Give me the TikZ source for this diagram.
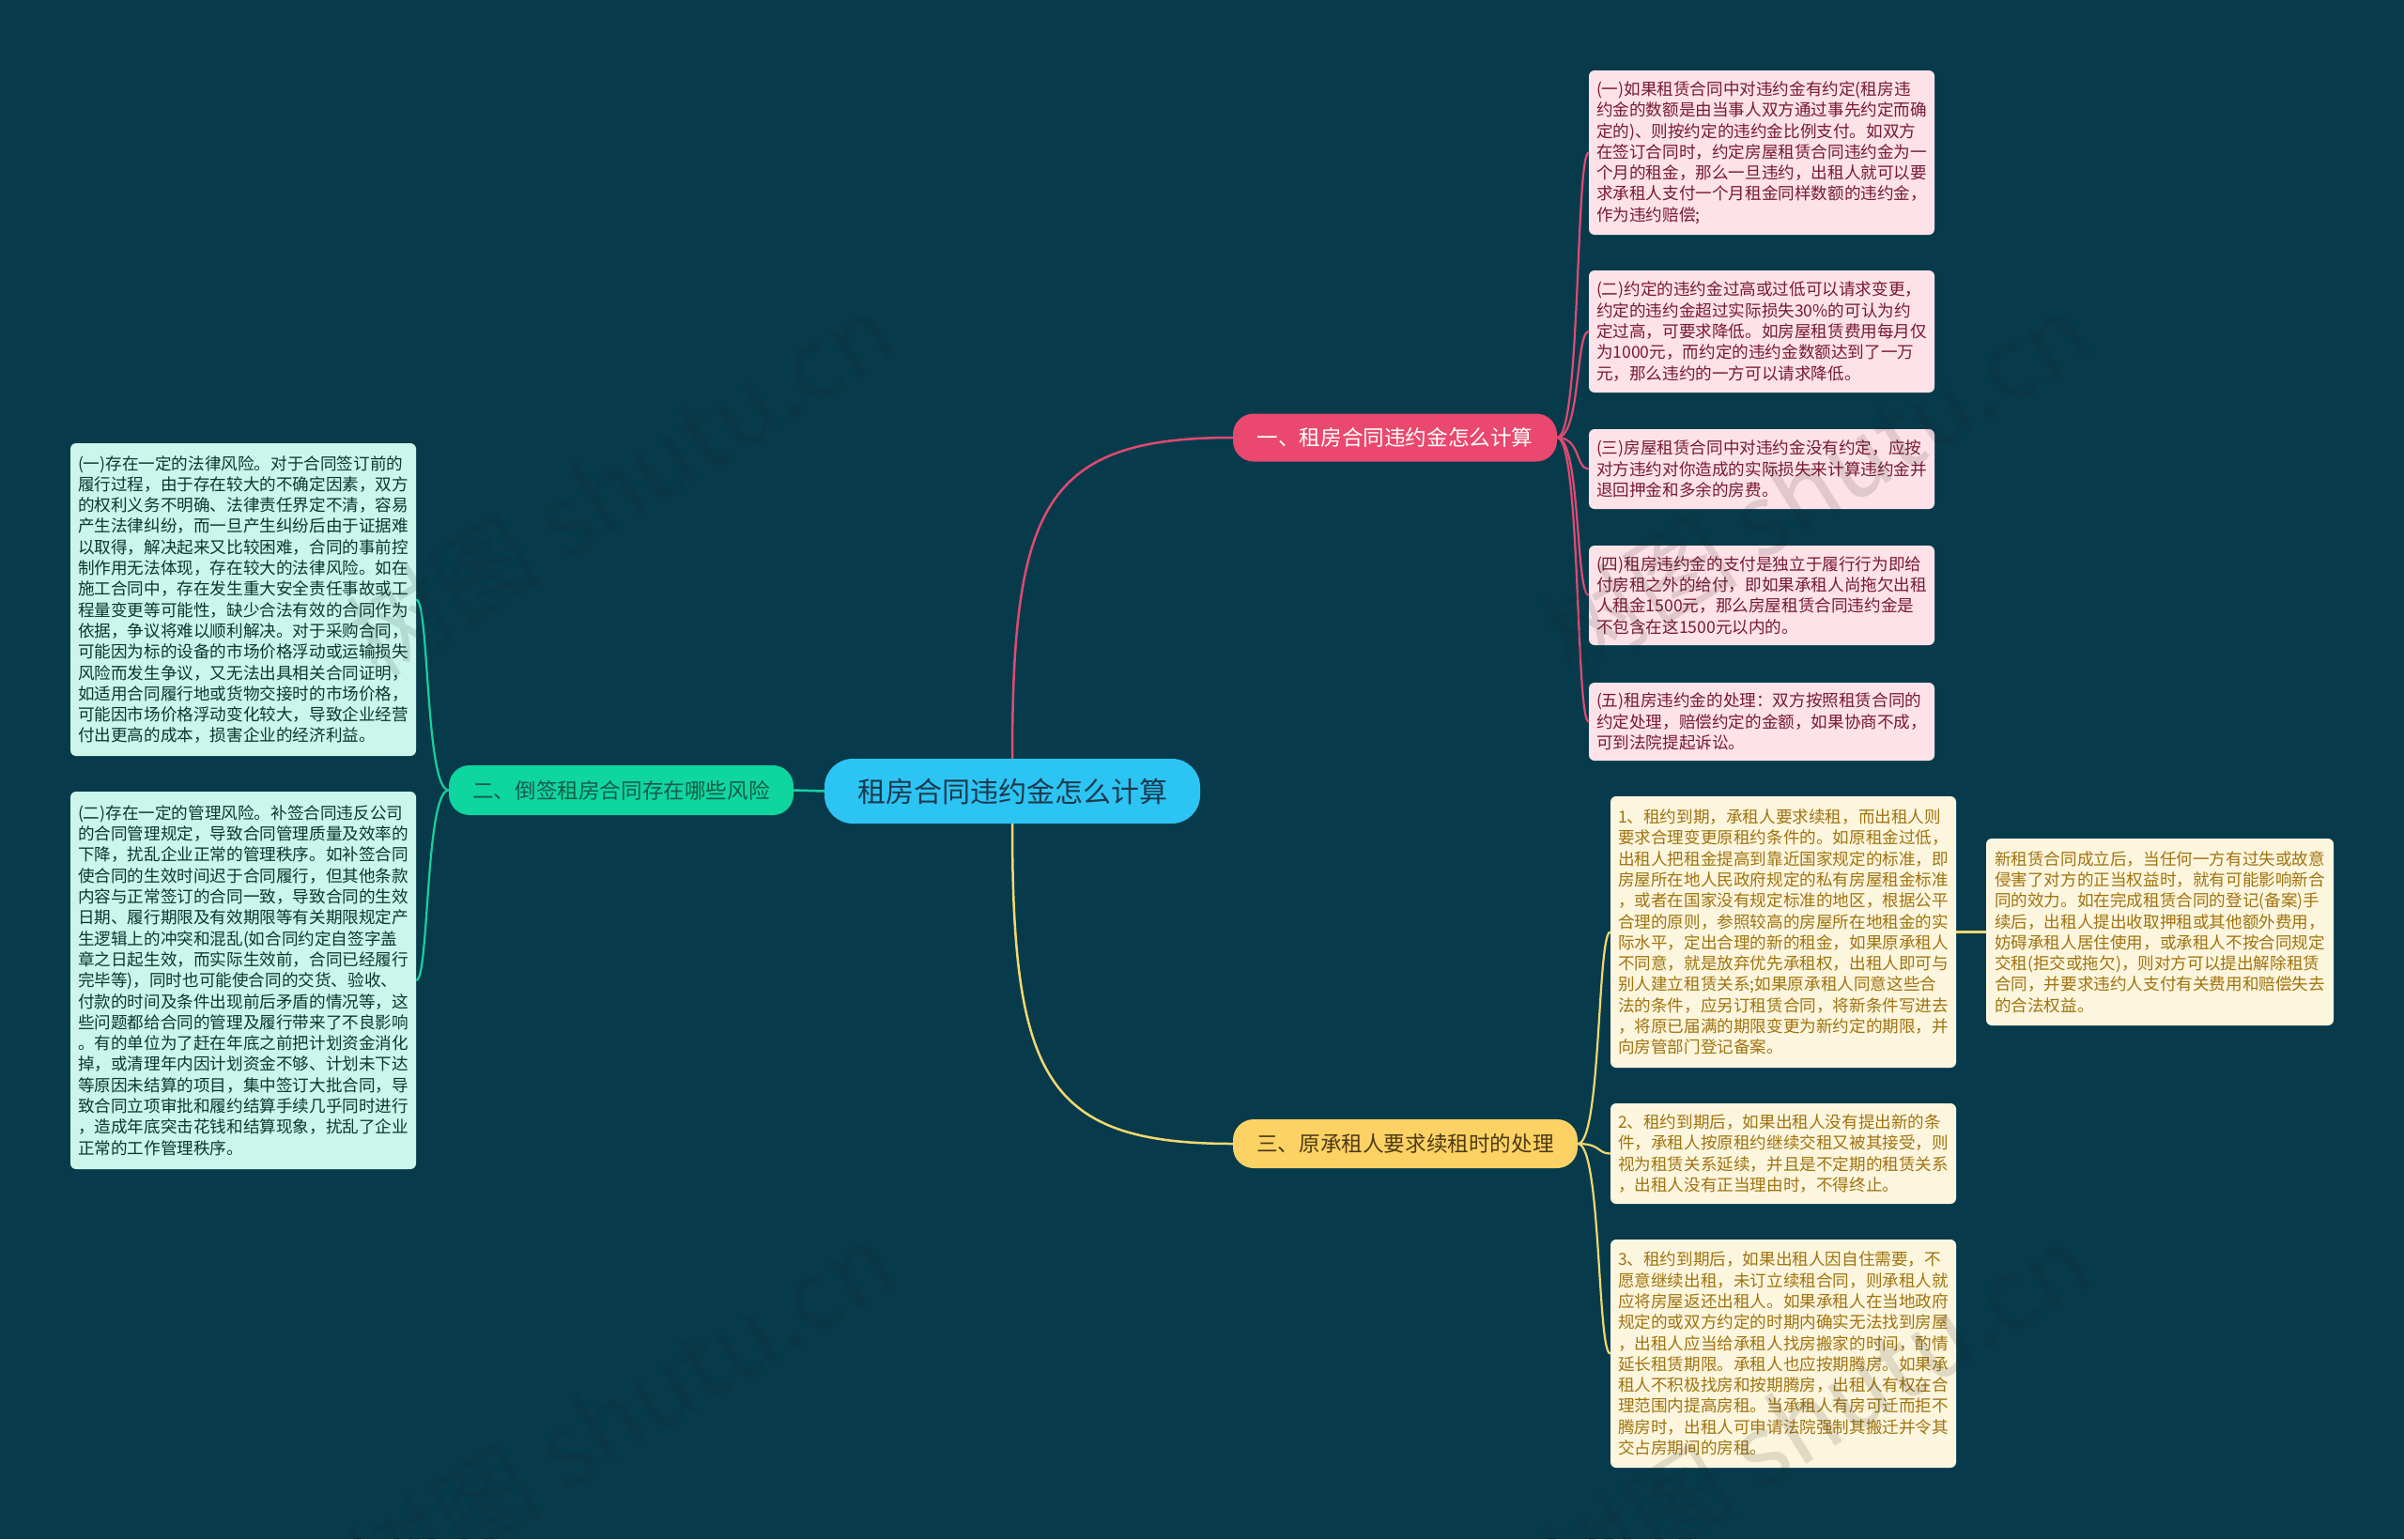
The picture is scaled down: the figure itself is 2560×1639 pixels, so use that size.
\documentclass[tikz,border=0pt]{standalone}
\usepackage{fontspec}
\newfontfamily\cjk{Noto Sans CJK SC}
\definecolor{bg}{HTML}{073B4C}
\definecolor{rootc}{HTML}{2CC4F3}
\definecolor{roottx}{HTML}{1C3A4E}
\definecolor{redc}{HTML}{EA486E}
\definecolor{redline}{HTML}{E04A72}
\definecolor{greenc}{HTML}{0ED69E}
\definecolor{greentx}{HTML}{175C4A}
\definecolor{greenline}{HTML}{19CF9F}
\definecolor{yellowc}{HTML}{FDD264}
\definecolor{yellowtx}{HTML}{4D3A12}
\definecolor{yellowline}{HTML}{F2D86E}
\definecolor{pinkbg}{HTML}{FDE2E8}
\definecolor{pinktx}{HTML}{781937}
\definecolor{mintbg}{HTML}{CCF6EA}
\definecolor{minttx}{HTML}{0C3732}
\definecolor{creambg}{HTML}{FDF6DE}
\definecolor{creamtx}{HTML}{A0730F}
\definecolor{wmc}{HTML}{202020}
\begin{document}
\begin{tikzpicture}[x=1pt,y=-1pt,
  leaf/.style={rounded corners=6pt, align=left, font=\cjk\fontsize{17.6}{22.3}\selectfont,
    minimum width=368pt, inner xsep=8pt, inner ysep=0pt},
  pleaf/.style={leaf, fill=pinkbg, text=pinktx},
  gleaf/.style={leaf, fill=mintbg, text=minttx},
  yleaf/.style={leaf, fill=creambg, text=creamtx},
  rootnode/.style={fill=rootc, text=roottx, rounded corners=30pt, minimum width=400pt,
    minimum height=69pt, inner sep=0pt, font=\cjk\fontsize{30}{36}\selectfont},
  branch/.style={rounded corners=22pt, minimum width=367pt, minimum height=52pt,
    inner sep=0pt, font=\cjk\fontsize{22.6}{27}\selectfont},
  mainline/.style={line width=2.5pt},
  subline/.style={line width=2.2pt},
  wm/.style={font=\cjk\fontsize{105}{120}\selectfont, text=wmc, opacity=0.13, rotate=32}
]
\fill[bg] (0,0) rectangle (2560,1639);
\useasboundingbox (0,0) rectangle (2560,1639);

% main nodes
\node[rootnode] (root) at (1078,842.5) {租房合同违约金怎么计算};
\node[branch, fill=redc, text=white, minimum width=345pt, minimum height=51pt] (n1) at (1485.5,466) {一、租房合同违约金怎么计算};
\node[branch, fill=greenc, text=greentx, minimum height=53pt] (n2) at (661.5,841.5) {二、倒签租房合同存在哪些风险};
\node[branch, fill=yellowc, text=yellowtx] (n3) at (1496.5,1218) {三、原承租人要求续租时的处理};

% pink leaves
\node[pleaf, minimum height=175pt] (p1) at (1876,162.5) {(一)如果租赁合同中对违约金有约定(租房违\\约金的数额是由当事人双方通过事先约定而确\\定的)、则按约定的违约金比例支付。如双方\\在签订合同时，约定房屋租赁合同违约金为一\\个月的租金，那么一旦违约，出租人就可以要\\求承租人支付一个月租金同样数额的违约金，\\作为违约赔偿;};
\node[pleaf, minimum height=130pt] (p2) at (1876,353) {(二)约定的违约金过高或过低可以请求变更，\\约定的违约金超过实际损失30\%的可认为约\\定过高，可要求降低。如房屋租赁费用每月仅\\为1000元，而约定的违约金数额达到了一万\\元，那么违约的一方可以请求降低。};
\node[pleaf, minimum height=85pt] (p3) at (1876,499.5) {(三)房屋租赁合同中对违约金没有约定，应按\\对方违约对你造成的实际损失来计算违约金并\\退回押金和多余的房费。};
\node[pleaf, minimum height=106pt] (p4) at (1876,634) {(四)租房违约金的支付是独立于履行行为即给\\付房租之外的给付，即如果承租人尚拖欠出租\\人租金1500元，那么房屋租赁合同违约金是\\不包含在这1500元以内的。};
\node[pleaf, minimum height=83pt] (p5) at (1876,768.5) {(五)租房违约金的处理：双方按照租赁合同的\\约定处理，赔偿约定的金额，如果协商不成，\\可到法院提起诉讼。};

% green leaves
\node[gleaf, minimum height=333pt] (g1) at (259,638.5) {(一)存在一定的法律风险。对于合同签订前的\\履行过程，由于存在较大的不确定因素，双方\\的权利义务不明确、法律责任界定不清，容易\\产生法律纠纷，而一旦产生纠纷后由于证据难\\以取得，解决起来又比较困难，合同的事前控\\制作用无法体现，存在较大的法律风险。如在\\施工合同中，存在发生重大安全责任事故或工\\程量变更等可能性，缺少合法有效的合同作为\\依据，争议将难以顺利解决。对于采购合同，\\可能因为标的设备的市场价格浮动或运输损失\\风险而发生争议，又无法出具相关合同证明，\\如适用合同履行地或货物交接时的市场价格，\\可能因市场价格浮动变化较大，导致企业经营\\付出更高的成本，损害企业的经济利益。};
\node[gleaf, minimum height=402pt] (g2) at (259,1044) {(二)存在一定的管理风险。补签合同违反公司\\的合同管理规定，导致合同管理质量及效率的\\下降，扰乱企业正常的管理秩序。如补签合同\\使合同的生效时间迟于合同履行，但其他条款\\内容与正常签订的合同一致，导致合同的生效\\日期、履行期限及有效期限等有关期限规定产\\生逻辑上的冲突和混乱(如合同约定自签字盖\\章之日起生效，而实际生效前，合同已经履行\\完毕等)，同时也可能使合同的交货、验收、\\付款的时间及条件出现前后矛盾的情况等，这\\些问题都给合同的管理及履行带来了不良影响\\。有的单位为了赶在年底之前把计划资金消化\\掉，或清理年内因计划资金不够、计划未下达\\等原因未结算的项目，集中签订大批合同，导\\致合同立项审批和履约结算手续几乎同时进行\\，造成年底突击花钱和结算现象，扰乱了企业\\正常的工作管理秩序。};

% yellow leaves
\node[yleaf, minimum height=289pt] (y1) at (1899,992.5) {1、租约到期，承租人要求续租，而出租人则\\要求合理变更原租约条件的。如原租金过低，\\出租人把租金提高到靠近国家规定的标准，即\\房屋所在地人民政府规定的私有房屋租金标准\\，或者在国家没有规定标准的地区，根据公平\\合理的原则，参照较高的房屋所在地租金的实\\际水平，定出合理的新的租金，如果原承租人\\不同意，就是放弃优先承租权，出租人即可与\\别人建立租赁关系;如果原承租人同意这些合\\法的条件，应另订租赁合同，将新条件写进去\\，将原已届满的期限变更为新约定的期限，并\\向房管部门登记备案。};
\node[yleaf, minimum width=370pt, minimum height=199pt] (y1c) at (2300,992.5) {新租赁合同成立后，当任何一方有过失或故意\\侵害了对方的正当权益时，就有可能影响新合\\同的效力。如在完成租赁合同的登记(备案)手\\续后，出租人提出收取押租或其他额外费用，\\妨碍承租人居住使用，或承租人不按合同规定\\交租(拒交或拖欠)，则对方可以提出解除租赁\\合同，并要求违约人支付有关费用和赔偿失去\\的合法权益。};
\node[yleaf, minimum height=107pt] (y2) at (1899,1228.5) {2、租约到期后，如果出租人没有提出新的条\\件，承租人按原租约继续交租又被其接受，则\\视为租赁关系延续，并且是不定期的租赁关系\\，出租人没有正当理由时，不得终止。};
\node[yleaf, minimum height=243pt] (y3) at (1899,1441.5) {3、租约到期后，如果出租人因自住需要，不\\愿意继续出租，未订立续租合同，则承租人就\\应将房屋返还出租人。如果承租人在当地政府\\规定的或双方约定的时期内确实无法找到房屋\\，出租人应当给承租人找房搬家的时间，酌情\\延长租赁期限。承租人也应按期腾房。如果承\\租人不积极找房和按期腾房，出租人有权在合\\理范围内提高房租。当承租人有房可迁而拒不\\腾房时，出租人可申请法院强制其搬迁并令其\\交占房期间的房租。};

% connectors
\draw[mainline, redline] (root.north) .. controls +(0,-270) and +(-200,0) .. (n1.west);
\draw[mainline, yellowline] (root.south) .. controls +(0,270) and +(-200,0) .. (n3.west);
\draw[mainline, greenline] (root.west) -- (n2.east);

\foreach \p in {p1,p2,p3,p4,p5}
  \draw[subline, redline] (n1.east) .. controls +(25,0) and +(-14,0) .. (\p.west);
\foreach \g in {g1,g2}
  \draw[subline, greenline] (n2.west) .. controls +(-25,0) and +(14,0) .. (\g.east);
\foreach \y in {y1,y2,y3}
  \draw[subline, yellowline] (n3.east) .. controls +(25,0) and +(-14,0) .. (\y.west);
\draw[subline, yellowline] (y1.east) -- (y1c.west);

% watermarks
\node[wm] (wm1) at (661,515) {树图 shutu.cn};
\node[wm] (wm2) at (1934,515) {树图 shutu.cn};
\node[wm] (wm3) at (661,1506) {树图 shutu.cn};
\node[wm] (wm4) at (1934,1506) {树图 shutu.cn};
\end{tikzpicture}
\end{document}
